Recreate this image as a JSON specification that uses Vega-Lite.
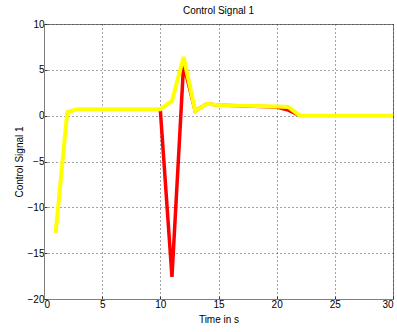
{
  "$schema": "https://vega.github.io/schema/vega-lite/v6.json",
  "width": 349,
  "height": 275,
  "autosize": "none",
  "padding": {"left": 44, "top": 24, "right": 4, "bottom": 33},
  "background": "white",
  "title": {"text": "Control Signal 1", "font": "Liberation Sans", "fontSize": 10, "fontWeight": "normal", "color": "black", "offset": 3},
  "config": {
    "view": {"stroke": "#7f7f7f", "strokeWidth": 1},
    "axis": {
      "labelFont": "Liberation Sans", "labelFontSize": 10, "labelColor": "black",
      "titleFont": "Liberation Sans", "titleFontSize": 10, "titleFontWeight": "normal", "titleColor": "black",
      "grid": true, "gridColor": "#333", "gridDash": [1, 3], "gridOpacity": 0.9,
      "domainColor": "#7f7f7f", "tickColor": "#333", "tickSize": -3
    }
  },
  "datasets": {
    "red": [
      {"t": 10, "v": 0.6}, {"t": 11, "v": -17.6}, {"t": 12, "v": 5.6}, {"t": 13, "v": 0.5},
      {"t": 14, "v": 1.3}, {"t": 15, "v": 1.15}, {"t": 20, "v": 0.95}, {"t": 21, "v": 0.6}, {"t": 22, "v": 0}
    ],
    "yellow": [
      {"t": 1, "v": -12.8}, {"t": 2, "v": 0.4}, {"t": 2.7, "v": 0.65}, {"t": 3, "v": 0.7},
      {"t": 10, "v": 0.7}, {"t": 11, "v": 1.6}, {"t": 12, "v": 6.4}, {"t": 13, "v": 0.5},
      {"t": 14, "v": 1.3}, {"t": 15, "v": 1.15}, {"t": 20, "v": 1.0}, {"t": 21, "v": 0.95},
      {"t": 22, "v": 0}, {"t": 30, "v": 0}
    ]
  },
  "encoding": {
    "x": {"field": "t", "type": "quantitative", "scale": {"domain": [0, 30], "nice": false},
      "axis": {"title": "Time in s", "values": [0, 5, 10, 15, 20, 25, 30], "labelPadding": 3, "titlePadding": 5}},
    "y": {"field": "v", "type": "quantitative", "scale": {"domain": [-20, 10], "nice": false},
      "axis": {"title": "Control Signal 1", "values": [-20, -15, -10, -5, 0, 5, 10], "labelPadding": 3, "titlePadding": 3}}
  },
  "layer": [
    {"data": {"name": "red"}, "mark": {"type": "line", "color": "#ff0000", "strokeWidth": 3.5}},
    {"data": {"name": "yellow"}, "mark": {"type": "line", "color": "#ffff00", "strokeWidth": 4}}
  ]
}
